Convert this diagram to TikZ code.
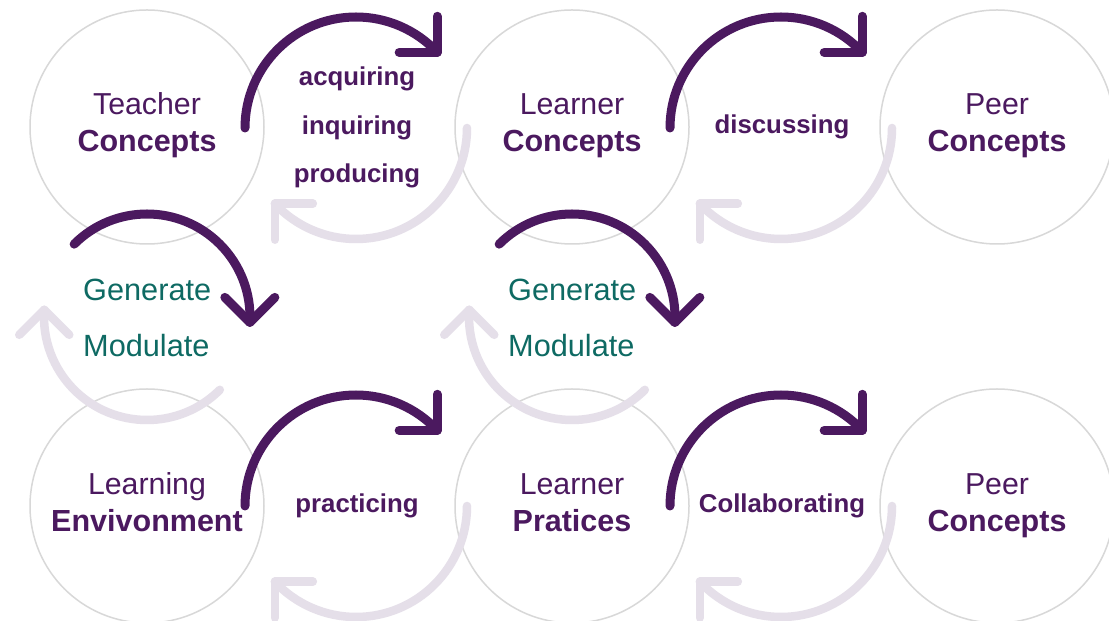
\documentclass[tikz,border=0pt]{standalone}
\usepackage{fontspec}
\setmainfont{Liberation Sans}
\usetikzlibrary{calc}
\definecolor{dk}{RGB}{75,25,95}
\definecolor{lt}{RGB}{229,223,233}
\definecolor{ringc}{RGB}{216,216,216}
\definecolor{teal}{RGB}{14,106,99}
\begin{document}
\begin{tikzpicture}[x=1pt,y=1pt,
  ring/.style={circle,draw=ringc,line width=1.5pt,minimum size=234pt,inner sep=0pt},
  darkarc/.style={draw=dk,line width=9pt,line cap=round,line join=round},
  lightarc/.style={draw=lt,line width=8.5pt,line cap=round,line join=round},
  bigtxt/.style={text=dk,font=\fontsize{30.3}{34}\selectfont,anchor=base,inner sep=0pt},
  bigbold/.style={text=dk,font=\fontsize{30.5}{34}\selectfont\bfseries,anchor=base,inner sep=0pt},
  verb/.style={text=dk,font=\fontsize{25.8}{30}\selectfont\bfseries,anchor=base,inner sep=0pt},
  gm/.style={text=teal,font=\fontsize{30.7}{34}\selectfont,anchor=base west,inner sep=0pt}]
\useasboundingbox (0,0) rectangle (1109,621);
\fill[white] (0,0) rectangle (1109,621);
% rings
\node[ring] (c1) at (147,494) {};
\node[ring] (c2) at (572,494) {};
\node[ring] (c3) at (997,494) {};
\node[ring] (c4) at (147,115) {};
\node[ring] (c5) at (572,115) {};
\node[ring] (c6) at (997,115) {};
% horizontal cycle icons
\foreach \n/\cx/\cy in {h1/356/493, h2/781/493, h3/356/115, h4/781/115}{
  \coordinate (\n) at (\cx,\cy);
  \draw[lightarc] ($(\n)+(111,0)$) arc[start angle=0,end angle=-137,radius=111] coordinate (\n l);
  \draw[lightarc] ($(\n l)+(0,-36)$) -- (\n l) -- ($(\n l)+(38,0)$);
  \draw[darkarc] ($(\n)+(-111,0)$) arc[start angle=180,end angle=43,radius=111] coordinate (\n d);
  \draw[darkarc] ($(\n d)+(0,36)$) -- (\n d) -- ($(\n d)+(-38,0)$);
}
% vertical cycle icons
\foreach \n/\cx/\cy in {v1/147/304, v2/572/304}{
  \coordinate (\n) at (\cx,\cy);
  \draw[lightarc] ($(\n)+(-45:103)$) arc[start angle=-45,end angle=-184,radius=103] coordinate (\n l);
  \draw[lightarc] ($(\n l)+(-25,-25)$) -- (\n l) -- ($(\n l)+(25,-25)$);
  \draw[darkarc] ($(\n)+(135:103)$) arc[start angle=135,end angle=-3,radius=103] coordinate (\n d);
  \draw[darkarc] ($(\n d)+(-25,25)$) -- (\n d) -- ($(\n d)+(25,25)$);
}
% circle texts
\node[bigtxt] (t1a) at (147,506) {Teacher};
\node[bigbold] (t1b) at (147,469) {Concepts};
\node[bigtxt] (t2a) at (572,506) {Learner};
\node[bigbold] (t2b) at (572,469) {Concepts};
\node[bigtxt] (t3a) at (997,506) {Peer};
\node[bigbold] (t3b) at (997,469) {Concepts};
\node[bigtxt] (t4a) at (147,126) {Learning};
\node[bigbold] (t4b) at (147,89) {Envivonment};
\node[bigtxt] (t5a) at (572,126) {Learner};
\node[bigbold] (t5b) at (572,89) {Pratices};
\node[bigtxt] (t6a) at (997,126) {Peer};
\node[bigbold] (t6b) at (997,89) {Concepts};
% verbs
\node[verb] (va) at (357,535) {acquiring};
\node[verb] (vb) at (357,486.5) {inquiring};
\node[verb] (vc) at (357,438) {producing};
\node[verb] (vd) at (782,487) {discussing};
\node[verb] (ve) at (357,108) {practicing};
\node[verb] (vf) at (782,108) {Collaborating};
% generate / modulate
\node[gm] (g1) at (83,320) {Generate};
\node[gm] (m1) at (83,264) {Modulate};
\node[gm] (g2) at (508,320) {Generate};
\node[gm] (m2) at (508,264) {Modulate};
\end{tikzpicture}
\end{document}
